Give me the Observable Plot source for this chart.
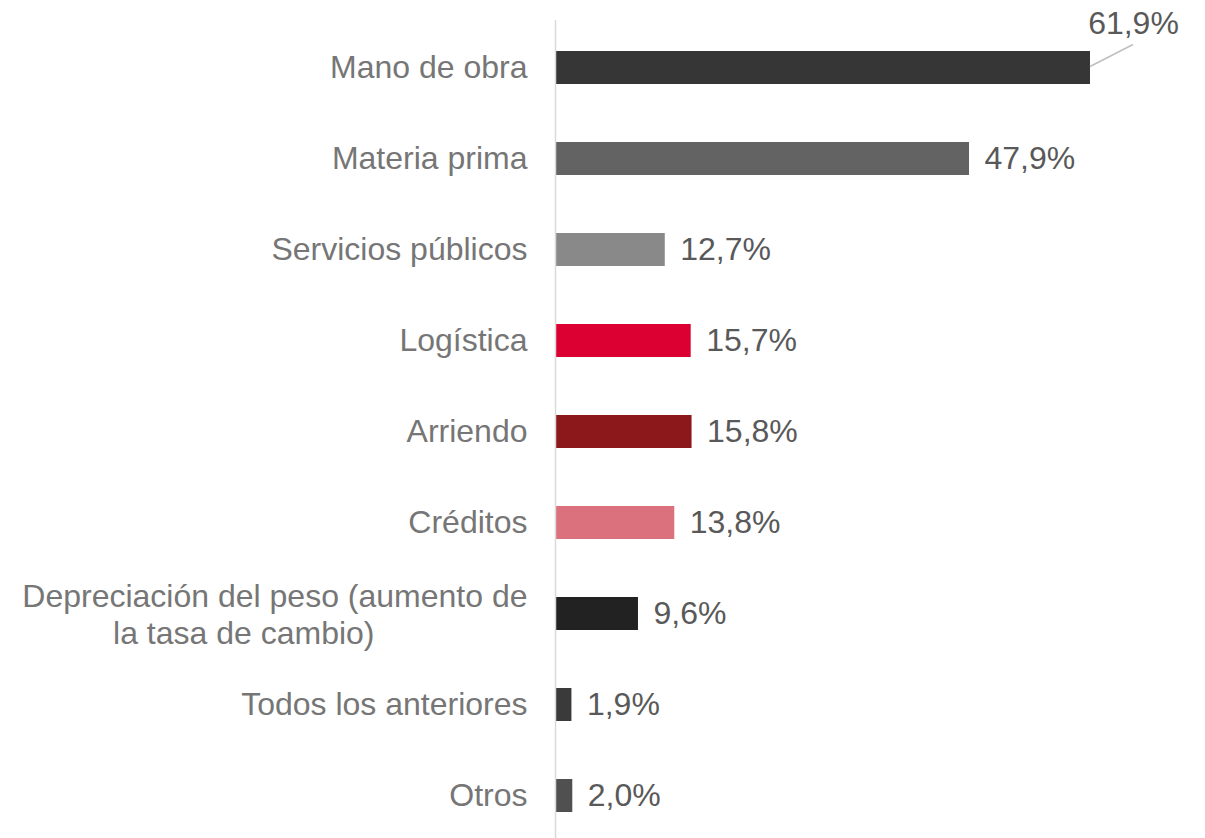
<!DOCTYPE html>
<html>
<head>
<meta charset="utf-8">
<script src="https://cdn.jsdelivr.net/npm/d3@7"></script>
<script src="https://cdn.jsdelivr.net/npm/@observablehq/plot@0.6"></script>
<style>
  html, body { margin: 0; padding: 0; background: #ffffff; }
  #chart svg { display: block; }
</style>
</head>
<body>
<div id="chart"></div>
<script>
const categories = [
  "Mano de obra",
  "Materia prima",
  "Servicios públicos",
  "Logística",
  "Arriendo",
  "Créditos",
  "Depreciación del peso (aumento de\nla tasa de cambio)",
  "Todos los anteriores",
  "Otros"
];
const values = [61.9, 47.9, 12.7, 15.7, 15.8, 13.8, 9.6, 1.9, 2.0];
const barColors = ["#363636", "#636363", "#898989", "#dc0032", "#8c181c", "#dc717e", "#222222", "#3a3a3a", "#505050"];

const data = categories.map((c, i) => ({cat: c, value: values[i]}));
const fmt = v => v.toFixed(1).replace(".", ",") + "%";
const maxVal = d3.max(values);
const isMax = d => d.value === maxVal;
const isWrapped = d => d.cat.includes("\n");
const wrapped = data.filter(isWrapped);

const FONT = "Liberation Sans, Arial, sans-serif";

const chart = Plot.plot({
  width: 1205,
  height: 838,
  marginLeft: 555,
  marginRight: 45,
  marginTop: 20,
  marginBottom: 0,
  style: {fontFamily: FONT, background: "#ffffff"},
  x: {domain: [0, 70], axis: null},
  y: {type: "band", domain: categories, range: [21, 842], paddingInner: 0.64, paddingOuter: 0.32, axis: null},
  color: {domain: categories, range: barColors},
  marks: [
    Plot.barX(data, {y: "cat", x: "value", fill: "cat"}),
    Plot.ruleX([0], {stroke: "#d9d9d9", strokeWidth: 1.5}),
    // category labels (single line, right aligned)
    Plot.text(data.filter(d => !isWrapped(d)), {
      y: "cat", x: 0, text: "cat", textAnchor: "end", dx: -28,
      fontSize: 32, fill: "#767676"
    }),
    // wrapped category label, first line
    Plot.text(wrapped, {
      y: "cat", x: 0, text: d => d.cat.split("\n")[0], textAnchor: "end", dx: -28, dy: -17,
      fontSize: 32, fill: "#767676"
    }),
    // wrapped category label, second line
    Plot.text(wrapped, {
      y: "cat", x: 0, text: d => d.cat.split("\n")[1], textAnchor: "end", dx: -181, dy: 20,
      fontSize: 32, fill: "#767676"
    }),
    // value labels
    Plot.text(data.filter(d => !isMax(d)), {
      y: "cat", x: "value", text: d => fmt(d.value), textAnchor: "start", dx: 15,
      fontSize: 32, fill: "#595959"
    }),
    Plot.text(data.filter(isMax), {
      y: "cat", x: "value", text: d => fmt(d.value), textAnchor: "middle", dx: 43, dy: -44,
      fontSize: 32, fill: "#595959"
    })
  ]
});

// leader line for the label placed above the largest bar
const sx = chart.scale("x");
const sy = chart.scale("y");
const maxDatum = data.find(isMax);
const x0 = sx.apply(maxDatum.value);
const y0 = sy.apply(maxDatum.cat) + sy.bandwidth / 2;
d3.select(chart).append("line")
  .attr("x1", x0).attr("y1", y0 - 1)
  .attr("x2", x0 + 43).attr("y2", y0 - 23)
  .attr("stroke", "#bfbfbf").attr("stroke-width", 1.5);

document.getElementById("chart").appendChild(chart);
</script>
</body>
</html>
